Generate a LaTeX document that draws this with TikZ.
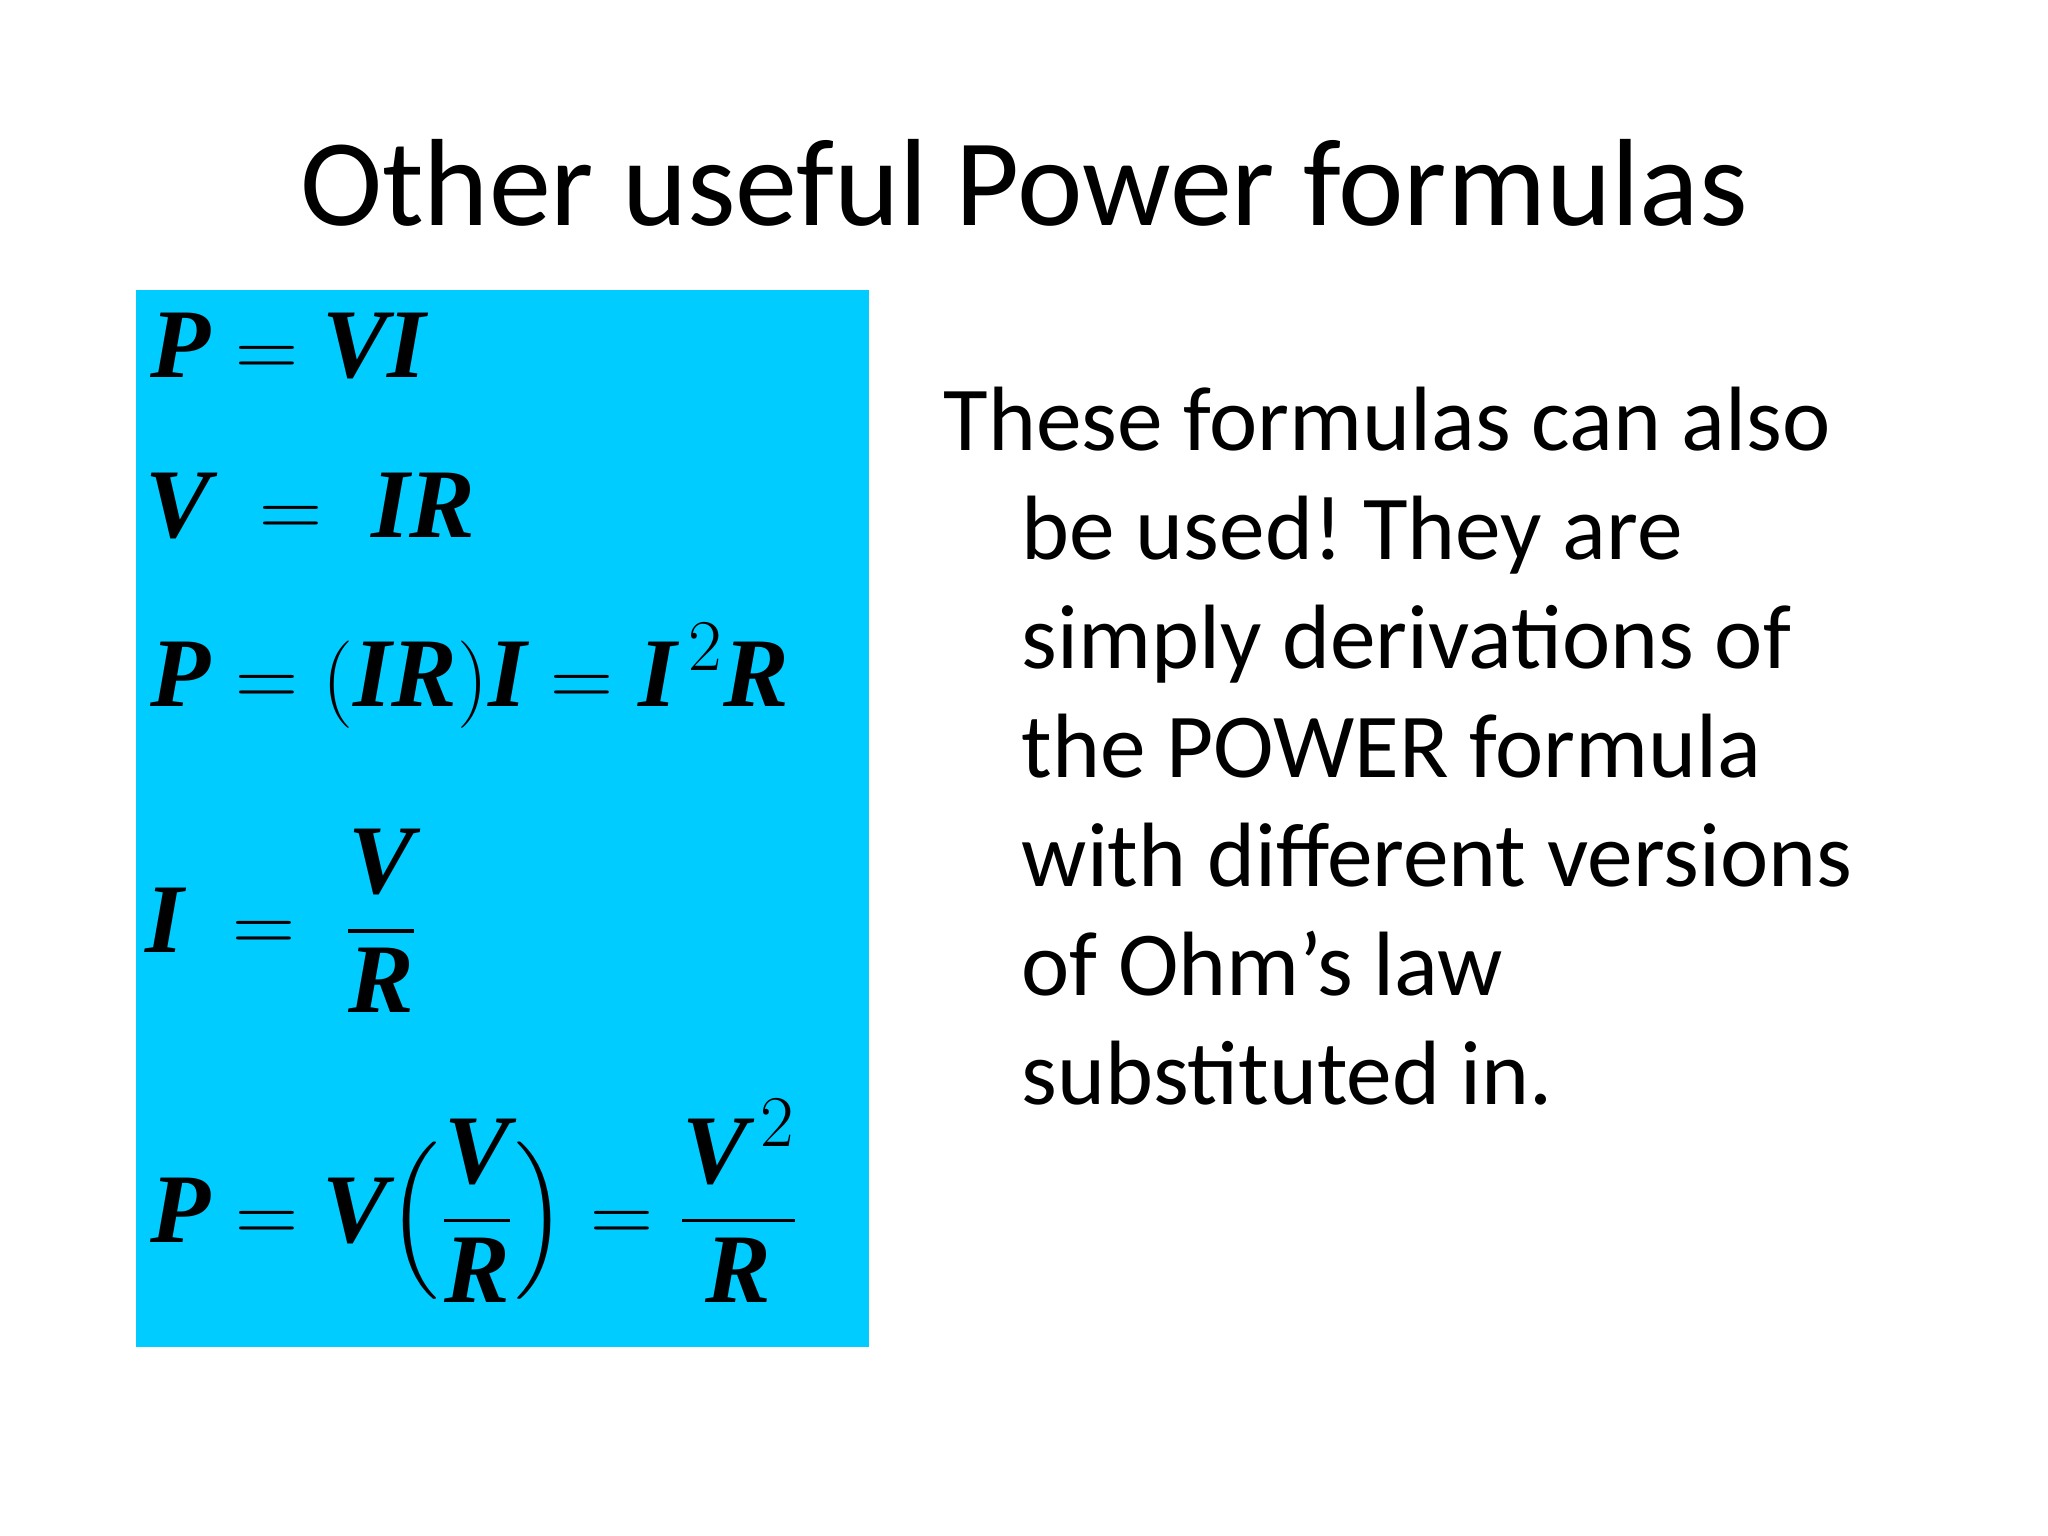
\documentclass[tikz,border=0pt]{standalone}
\usepackage{amsmath}
\usepackage{fontspec}
\setmainfont{Carlito}
\newfontfamily\fml{Liberation Serif}[BoldItalicFont={* Bold Italic}]
\newcommand{\vv}[1]{\hbox{\fml\bfseries\itshape #1}}
\frenchspacing
\tikzset{txt/.style={anchor=base west,inner sep=0pt,font=\fontsize{26}{31}\selectfont},
 eq/.style={anchor=west,inner sep=0pt,font=\fontsize{28}{34}\selectfont}}
\begin{document}
\begin{tikzpicture}
\useasboundingbox (0,0) rectangle (20.48,15.36);
\fill[white] (0,0) rectangle (20.48,15.36);
\node[anchor=base,inner sep=0pt,font=\fontsize{35.3}{42}\selectfont] (title) at (10.24,13.1) {Other useful Power formulas};
\fill[fill={rgb,255:red,0;green,204;blue,255}] (1.36,1.89) rectangle (8.69,12.46);
\node[eq] (e1) at (1.5,11.9) {$\vv{P}=\vv{VI}$};
\node[eq] (e2) at (1.45,10.3) {$\vv{V}\;=\;\vv{IR}$};
\node[eq] (e3) at (1.5,8.6) {$\vv{P}=(\vv{IR})\vv{I}=\vv{I}^{\,2}\vv{R}$};
\node[eq] (e4) at (1.45,6.15) {$\vv{I}\;=\;\dfrac{\vv{V}}{\vv{R}}$};
\node[eq] (e5) at (1.5,3.35) {$\vv{P}=\vv{V}\Big(\dfrac{\vv{V}}{\vv{R}}\Big)=\dfrac{\vv{V}^{\,2}}{\vv{R}}$};
\node[txt] (t1) at (9.43,10.85) {These formulas can also};
\node[txt] (t2) at (10.21,9.76) {be used! They are};
\node[txt] (t3) at (10.21,8.67) {simply derivations of};
\node[txt] (t4) at (10.21,7.58) {the POWER formula};
\node[txt] (t5) at (10.21,6.49) {with different versions};
\node[txt] (t6) at (10.21,5.40) {of Ohm\char"27 s law};
\node[txt] (t7) at (10.21,4.31) {substituted in.};
\end{tikzpicture}
\end{document}
